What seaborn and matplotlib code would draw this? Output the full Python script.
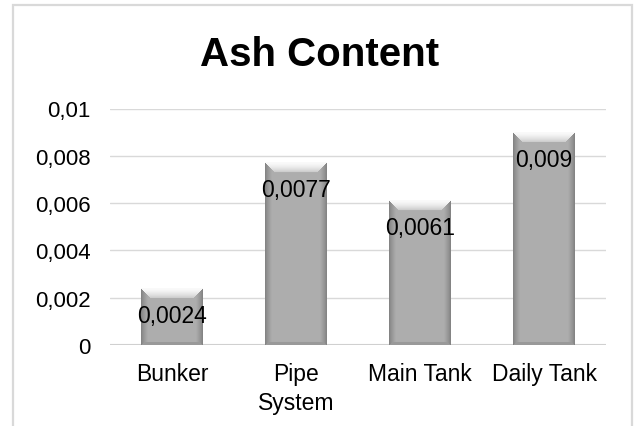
import numpy as np
import pandas as pd
import matplotlib
matplotlib.use("Agg")
import matplotlib.pyplot as plt
from matplotlib.patches import Rectangle
import seaborn as sns

# Ash content measured at each stage of the fuel system
locations = ["Bunker", "Pipe\nSystem", "Main Tank", "Daily Tank"]
ash_content = [0.0024, 0.0077, 0.0061, 0.009]
value_labels = ["0,0024", "0,0077", "0,0061", "0,009"]
y_ticks = [0, 0.002, 0.004, 0.006, 0.008, 0.01]
y_tick_labels = ["0", "0,002", "0,004", "0,006", "0,008", "0,01"]

df = pd.DataFrame({"location": locations, "ash": ash_content})

sns.set_theme(style="white")
plt.rcParams["font.family"] = ["Liberation Sans", "DejaVu Sans"]

DPI = 100
fig = plt.figure(figsize=(6.39, 4.27), dpi=DPI)
ax = fig.add_axes([110 / 639, 1 - 346 / 427, (606 - 110) / 639, (346 - 109.5) / 427])

sns.barplot(data=df, x="location", y="ash", order=locations, color="#ababab",
            width=0.5, saturation=1, edgecolor="none", ax=ax, zorder=3)

ax.set_ylim(0, 0.01)
ax.set_xlim(-0.5, len(locations) - 0.5)
ax.set_yticks(y_ticks)
ax.set_yticklabels(y_tick_labels)
ax.set_xlabel("")
ax.set_ylabel("")
ax.tick_params(axis="y", length=0, pad=14, labelsize=16, colors="black")
ax.tick_params(axis="x", length=0, pad=12, labelsize=16.5, colors="black")
for lab in ax.get_xticklabels():
    lab.set_linespacing(1.35)
ax.yaxis.grid(True, color="#d9d9d9", linewidth=1.0, zorder=0)
ax.xaxis.grid(False)
for s in ax.spines.values():
    s.set_visible(False)
ax.axhline(0, color="#d0d0d0", linewidth=1.5, zorder=2)

# Bevelled shading for each bar, sized from the bar geometry in pixels
fig.canvas.draw()
bars = list(ax.patches)


def bevel_image(wpx, hpx, base=0.68, bevel=10, side=7):
    h, w = max(int(round(hpx)), 2), max(int(round(wpx)), 2)
    ii, jj = np.mgrid[0:h, 0:w].astype(float)
    dt = ii
    dl = jj
    dr = w - 1 - jj
    db = h - 1 - ii
    img = np.full((h, w), base)
    # darker vertical edges
    dside = np.minimum(dl, dr)
    side_mask = dside < side
    img = np.where(side_mask, base - 0.16 * (1 - dside / side) ** 1.3, img)
    # darker bottom rim
    bot_mask = (db < 3) & (db < dside)
    img = np.where(bot_mask, base - 0.08, img)
    # light top bevel (trapezoid)
    top_mask = (dt < bevel) & (dt <= dl) & (dt <= dr)
    img = np.where(top_mask, 0.98 - 0.2 * (dt / bevel) ** 1.5, img)
    return np.clip(img, 0, 1)


for bar, txt in zip(bars, value_labels):
    x0, y0 = bar.get_x(), bar.get_y()
    x1, y1 = x0 + bar.get_width(), y0 + bar.get_height()
    (px0, py0), (px1, py1) = ax.transData.transform([(x0, y0), (x1, y1)])
    img = bevel_image(px1 - px0, py1 - py0)
    ax.imshow(np.dstack([img, img, img]), extent=(x0, x1, y0, y1),
              aspect="auto", origin="upper", interpolation="bilinear",
              zorder=4)
    ax.annotate(txt, xy=(bar.get_x() + bar.get_width() / 2, y1),
                xytext=(0, -19.5), textcoords="offset points",
                ha="center", va="center", fontsize=16.5, color="black",
                zorder=6)

ax.set_ylim(0, 0.01)
ax.set_xlim(-0.5, len(locations) - 0.5)

fig.text(0.5, 1 - 55 / 427, "Ash Content", ha="center", va="center",
         fontsize=29, fontweight="bold", color="black")

# chart frame
fig.patches.append(Rectangle((12.5 / 639, -0.2), (632 - 12.5) / 639,
                             1.2 - 6 / 427, transform=fig.transFigure,
                             fill=False, edgecolor="#d9d9d9", linewidth=1.6))

fig.savefig("out.png", dpi=DPI, facecolor="white")
